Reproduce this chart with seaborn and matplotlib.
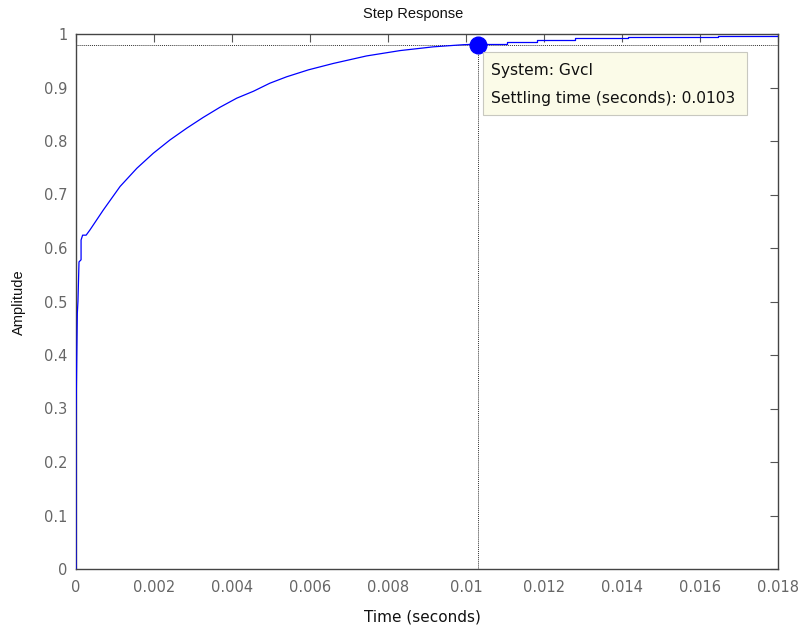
import matplotlib
matplotlib.use("Agg")
import matplotlib.pyplot as plt
import matplotlib.ticker as mticker
import seaborn as sns
import pandas as pd

# ---- data ----
rise_t = [0.0, 0.0, 0.00002, 0.000034, 0.00005, 0.000077, 0.00013, 0.00013, 0.00017,
          0.00026, 0.00036, 0.0007, 0.00113, 0.00156, 0.00198, 0.00241, 0.00284,
          0.00326, 0.00369, 0.00412, 0.00455, 0.00497, 0.0054, 0.00596, 0.0066,
          0.00745, 0.00831, 0.00916, 0.00993, 0.0103]
rise_y = [0.0, 0.28, 0.40, 0.478, 0.50, 0.574, 0.578, 0.615, 0.624,
          0.624, 0.634, 0.671, 0.715, 0.749, 0.777, 0.802, 0.824,
          0.844, 0.863, 0.880, 0.893, 0.908, 0.920, 0.933, 0.945,
          0.959, 0.969, 0.976, 0.980, 0.981]
tail_t = [0.0103, 0.01104, 0.01181, 0.0128, 0.01416, 0.01647, 0.018]
tail_y = [0.981, 0.9856, 0.9888, 0.992, 0.9938, 0.9969, 0.9994]

settle_t = 0.0103
settle_y = 0.98
x_ticks = [0, 0.002, 0.004, 0.006, 0.008, 0.01, 0.012, 0.014, 0.016, 0.018]
y_ticks = [0, 0.1, 0.2, 0.3, 0.4, 0.5, 0.6, 0.7, 0.8, 0.9, 1]
title = "Step Response"
xlabel = "Time (seconds)"
ylabel = "Amplitude"
info_lines = ["System: Gvcl", "Settling time (seconds): 0.0103"]

sns.set_theme(style="white")
plt.rcParams["font.family"] = ["DejaVu Sans"]
narrow = ["Liberation Sans Narrow", "Liberation Sans", "DejaVu Sans"]

fig = plt.figure(figsize=(8.01, 6.26), dpi=100)
ax = fig.add_axes([76 / 801, 57 / 626, 702 / 801, 535 / 626])

rise = pd.DataFrame({"t": rise_t, "y": rise_y})
tail = pd.DataFrame({"t": tail_t, "y": tail_y})
blue = "#0000ff"
sns.lineplot(data=rise, x="t", y="y", ax=ax, color=blue, lw=0.9,
             estimator=None, sort=False, zorder=3)
sns.lineplot(data=tail, x="t", y="y", ax=ax, color=blue, lw=0.9,
             estimator=None, sort=False, drawstyle="steps-post", zorder=3)

# settling guides
ax.axhline(settle_y, color="#333333", lw=0.7, ls=(0, (1, 1)), zorder=1)
ax.plot([settle_t, settle_t], [0, settle_y], color="#333333", lw=0.7,
        ls=(0, (1, 1)), zorder=1)
ax.plot([settle_t], [settle_y], "o", color=blue, ms=12, zorder=5)

ax.set_xlim(0, 0.018)
ax.set_ylim(0, 1)
ax.set_xticks(x_ticks)
ax.set_yticks(y_ticks)
fmt = mticker.FuncFormatter(lambda v, p: "%g" % round(v, 6))
ax.xaxis.set_major_formatter(fmt)
ax.yaxis.set_major_formatter(fmt)

tick_col = "#666666"
ax.tick_params(axis="both", direction="in", length=5.5, width=0.8,
               colors="#555555", labelsize=10.5, top=True, right=True,
               labelcolor=tick_col)
ax.tick_params(axis="x", pad=8)
ax.tick_params(axis="y", pad=6)
for s in ax.spines.values():
    s.set_color("#444444")
    s.set_linewidth(1.0)

ax.set_xlabel("")
ax.set_ylabel("")
fig.text(422 / 801, 1 - 617 / 626, xlabel, ha="center", va="center",
         fontsize=11, color="#111111")
fig.text(19 / 801, 1 - 302 / 626, ylabel, ha="center", va="center",
         fontsize=10.5, rotation=90, color="#111111", family=narrow)
fig.text(413 / 801, 1 - 14 / 626, title, ha="center", va="center",
         fontsize=10.5, color="#111111", family=narrow)

# data-tip box
box = plt.Rectangle((483 / 801, 1 - 115 / 626), 264 / 801, 63 / 626,
                    transform=fig.transFigure, facecolor="#fbfbe8",
                    edgecolor="#c8c8c0", lw=0.8, zorder=6)
fig.add_artist(box)
fig.text(491 / 801, 1 - 71 / 626, info_lines[0], ha="left", va="center",
         fontsize=11.2, color="#111111", zorder=7)
fig.text(491 / 801, 1 - 98 / 626, info_lines[1], ha="left", va="center",
         fontsize=11.2, color="#111111", zorder=7)

fig.savefig("out.png", dpi=100)
